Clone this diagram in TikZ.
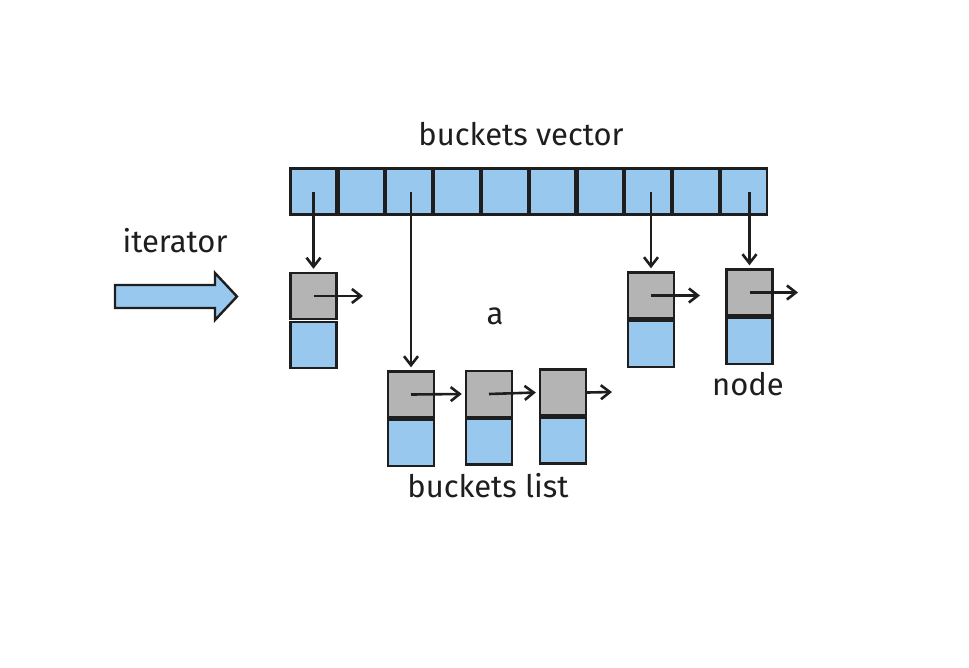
\documentclass[tikz,border=0pt]{standalone}
\usepackage{fontspec}
\setmainfont{Fira Sans}
\usetikzlibrary{arrows.meta}
\definecolor{cblue}{HTML}{98C8EE}
\definecolor{cgray}{HTML}{B4B4B4}
\definecolor{cstroke}{HTML}{1E1E1E}
\begin{document}
\begin{tikzpicture}[x=1pt,y=-1pt,
  box/.style={draw=cstroke,line width=2.4pt,minimum width=46pt,minimum height=46pt,inner sep=0pt},
  cell/.style={box,fill=cblue},
  gbox/.style={box,fill=cgray},
  bbox/.style={box,fill=cblue},
  ptr/.style={draw=cstroke,line width=2.6pt,-{Straight Barb[length=9pt,width=14pt,line width=2.6pt]}},
  lbl/.style={font=\fontsize{31}{36}\selectfont,text=cstroke,inner sep=0pt}]
\useasboundingbox (0,0) rectangle (969,667);
% buckets vector
\foreach \i in {0,...,9}{
  \node[cell] (v\i) at ({313.5+47.8*\i},191.5) {};
}
\node[lbl] (tv) at (521,134) {buckets vector};
\node[lbl] (ti) at (175,241) {iterator};
\node[lbl] (ta) at (495,316) {a};
\node[lbl] (tl) at (488,486) {buckets list};
\node[lbl] (tn) at (748,384) {node};
% iterator arrow
\draw[draw=cstroke,fill=cblue,line width=2.4pt,line join=miter]
  (115,285) -- (215,285) -- (215,273) -- (237,296.5) -- (215,320) -- (215,308) -- (115,308) -- cycle;
% nodes
\node[gbox] (g1) at (313.5,296) {};
\node[bbox] (b1) at (313.5,345) {};
\node[gbox] (gA) at (411,394.5) {};
\node[bbox] (bA) at (411,443) {};
\node[gbox] (gB) at (489,394) {};
\node[bbox] (bB) at (489,441.5) {};
\node[gbox] (gC) at (563,392.5) {};
\node[bbox] (bC) at (563,440.5) {};
\node[gbox] (gD) at (651,295.5) {};
\node[bbox] (bD) at (651,344) {};
\node[gbox] (gE) at (749.5,292.5) {};
\node[bbox] (bE) at (749.5,341) {};
% free ends
\coordinate (e1) at (363,296);
\coordinate (eC) at (612,392);
\coordinate (eD) at (700,295.5);
\coordinate (eE) at (798,292.5);
% pointers from vector
\draw[ptr] (g1.north |- v0.center) -- ([yshift=3pt]g1.north);
\draw[ptr] (gA.north |- v2.center) -- ([yshift=3pt]gA.north);
\draw[ptr] (gD.north |- v7.center) -- ([yshift=3pt]gD.north);
\draw[ptr] (gE.north |- v9.center) -- ([yshift=3pt]gE.north);
% next pointers
\draw[ptr] (g1.center) -- (e1);
\draw[ptr] (gA.center) -- ([xshift=-3pt]gB.west);
\draw[ptr] (gB.center) -- ([xshift=-3pt]gC.west);
\draw[ptr] (gC.east) -- (eC);
\draw[ptr] (gD.center) -- (eD);
\draw[ptr] (gE.center) -- (eE);
\end{tikzpicture}
\end{document}
